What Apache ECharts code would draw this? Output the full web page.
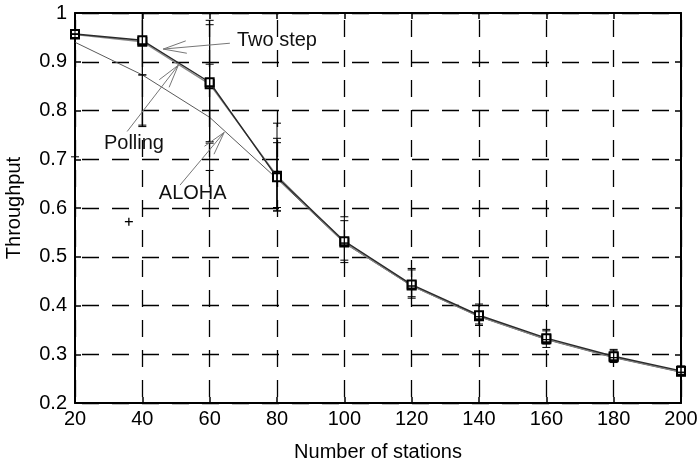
<!DOCTYPE html>
<html>
<head>
<meta charset="utf-8">
<script src="https://cdn.jsdelivr.net/npm/echarts@6/dist/echarts.min.js"></script>
<style>
  html, body { margin: 0; padding: 0; background: #fff; }
  #chart { width: 698px; height: 462px; }
</style>
</head>
<body>
<div id="chart"></div>
<script>
// Throughput versus number of stations for three access schemes
const stations = [20, 40, 60, 80, 100, 120, 140, 160, 180, 200];

const twoStep = [0.957, 0.944, 0.858, 0.663, 0.532, 0.443, 0.380, 0.333, 0.296, 0.266];
const polling = [0.956, 0.941, 0.854, 0.666, 0.529, 0.441, 0.378, 0.331, 0.294, 0.264];
const aloha   = [0.940, 0.873, 0.786, 0.660, 0.528, 0.440, 0.377, 0.330, 0.293, 0.263];

// error bar extents (lower / upper)
const twoStepLow  = [0.957, 0.767, 0.733, 0.601, 0.488, 0.415, 0.359, 0.314, 0.283, 0.256];
const twoStepHigh = [0.957, 1.120, 0.985, 0.743, 0.574, 0.476, 0.403, 0.351, 0.310, 0.276];
const pollingLow  = [0.956, 0.770, 0.736, 0.594, 0.493, 0.418, 0.362, 0.321, 0.286, 0.258];
const pollingHigh = [0.956, 1.115, 0.976, 0.734, 0.582, 0.473, 0.400, 0.348, 0.307, 0.274];
const alohaLow    = [0.705, 0.873, 0.677, 0.594, 0.528, 0.440, 0.377, 0.330, 0.293, 0.263];
const alohaHigh   = [1.175, 0.873, 0.895, 0.774, 0.528, 0.440, 0.377, 0.330, 0.293, 0.263];

// isolated sample
const strayStations = [36];
const strayValues = [0.572];

const xTicks = { min: 20, max: 200, step: 20 };
const yTicks = { min: 0.2, max: 1, step: 0.1 };

const seriesNames = ['Two step', 'Polling', 'ALOHA'];

// annotation text anchors and arrow ends, in data units
const noteAnchors = [[68.1, 0.943], [28.6, 0.733], [44.9, 0.630]];
const noteTails   = [[66.0, 0.938], [35.5, 0.757], [51.2, 0.647]];
const noteTips    = [[46.2, 0.926], [50.7, 0.893], [64.3, 0.755]];

const FONT = '"Liberation Sans", Arial, Helvetica, sans-serif';

const chart = echarts.init(document.getElementById('chart'), null, { renderer: 'canvas' });

function errorBars(low, high) {
  return stations.map((s, i) => [s, low[i], high[i]]);
}

function renderErrorBar(params, api) {
  const x = api.value(0);
  const pLo = api.coord([x, api.value(1)]);
  const pHi = api.coord([x, api.value(2)]);
  const cs = params.coordSys;
  const top = cs.y, bottom = cs.y + cs.height;
  const yHi = Math.max(pHi[1], top);
  const yLo = Math.min(pLo[1], bottom);
  const hw = 4;
  const style = { stroke: '#000', lineWidth: 1 };
  const children = [
    { type: 'line', shape: { x1: pLo[0], y1: yLo, x2: pLo[0], y2: yHi }, style }
  ];
  if (pHi[1] >= top) children.push({ type: 'line', shape: { x1: pHi[0] - hw, y1: pHi[1], x2: pHi[0] + hw, y2: pHi[1] }, style });
  if (pLo[1] <= bottom) children.push({ type: 'line', shape: { x1: pLo[0] - hw, y1: pLo[1], x2: pLo[0] + hw, y2: pLo[1] }, style });
  return { type: 'group', children };
}

function renderCross(params, api) {
  const p = api.coord([api.value(0), api.value(1)]);
  const a = 4;
  const style = { stroke: '#000', lineWidth: 1.3 };
  return {
    type: 'group',
    children: [
      { type: 'line', shape: { x1: p[0] - a, y1: p[1], x2: p[0] + a, y2: p[1] }, style },
      { type: 'line', shape: { x1: p[0], y1: p[1] - a, x2: p[0], y2: p[1] + a }, style }
    ]
  };
}

const gridDash = { type: [17, 13], dashOffset: 23 };

const option = {
  animation: false,
  backgroundColor: '#fff',
  grid: { left: 75, right: 17, top: 13, bottom: 59, containLabel: false, outerBoundsMode: 'none' },
  xAxis: [
    {
      type: 'value', position: 'bottom',
      min: xTicks.min, max: xTicks.max, interval: xTicks.step,
      name: 'Number of stations', nameLocation: 'middle', nameGap: 39,
      nameTextStyle: { fontFamily: FONT, fontSize: 20, color: '#000' },
      axisLine: { lineStyle: { color: '#000', width: 2 } },
      axisTick: { inside: true, length: 6, lineStyle: { color: '#000', width: 1.5 } },
      axisLabel: { fontFamily: FONT, fontSize: 20, color: '#000', margin: 6 },
      splitLine: { show: true, lineStyle: { color: '#000', width: 1.3, type: gridDash.type, dashOffset: gridDash.dashOffset } }
    },
    {
      type: 'value', position: 'top',
      min: xTicks.min, max: xTicks.max, interval: xTicks.step,
      axisLine: { lineStyle: { color: '#000', width: 2 } },
      axisTick: { inside: true, length: 6, lineStyle: { color: '#000', width: 1.5 } },
      axisLabel: { show: false },
      splitLine: { show: false }
    }
  ],
  yAxis: [
    {
      type: 'value', position: 'left',
      min: yTicks.min, max: yTicks.max, interval: yTicks.step,
      name: 'Throughput', nameLocation: 'middle', nameGap: 51,
      nameTextStyle: { fontFamily: FONT, fontSize: 20, color: '#000' },
      axisLine: { show: true, lineStyle: { color: '#000', width: 2 } },
      axisTick: { show: true, inside: true, length: 6, lineStyle: { color: '#000', width: 1.5 } },
      axisLabel: { fontFamily: FONT, fontSize: 20, color: '#000', margin: 8 },
      splitLine: { show: true, lineStyle: { color: '#000', width: 1.3, type: gridDash.type, dashOffset: gridDash.dashOffset } }
    },
    {
      type: 'value', position: 'right',
      min: yTicks.min, max: yTicks.max, interval: yTicks.step,
      axisLine: { show: true, lineStyle: { color: '#000', width: 2 } },
      axisTick: { show: true, inside: true, length: 6, lineStyle: { color: '#000', width: 1.5 } },
      axisLabel: { show: false },
      splitLine: { show: false }
    }
  ],
  series: [
    {
      name: seriesNames[2], type: 'line',
      data: stations.map((s, i) => [s, aloha[i]]),
      showSymbol: false, symbol: 'none',
      lineStyle: { color: '#5a5a5a', width: 1 }, z: 3
    },
    {
      name: seriesNames[1], type: 'line',
      data: stations.map((s, i) => [s, polling[i]]),
      symbol: 'emptyRect', symbolSize: 8,
      itemStyle: { color: '#000', borderColor: '#000', borderWidth: 1.5 },
      lineStyle: { color: '#8a8a8a', width: 1.4 }, z: 4
    },
    {
      name: seriesNames[0], type: 'line',
      data: stations.map((s, i) => [s, twoStep[i]]),
      symbol: 'emptyRect', symbolSize: 8,
      itemStyle: { color: '#000', borderColor: '#000', borderWidth: 1.5 },
      lineStyle: { color: '#2a2a2a', width: 1.4 }, z: 5
    },
    { type: 'custom', renderItem: renderErrorBar, data: errorBars(alohaLow, alohaHigh), z: 6, clip: false },
    { type: 'custom', renderItem: renderErrorBar, data: errorBars(pollingLow, pollingHigh), z: 6, clip: false },
    { type: 'custom', renderItem: renderErrorBar, data: errorBars(twoStepLow, twoStepHigh), z: 6, clip: false },
    { type: 'custom', renderItem: renderCross, data: strayStations.map((s, i) => [s, strayValues[i]]), z: 6 }
  ]
};

chart.setOption(option);

// annotations: label text plus an open arrow pointing at each curve
function annotationGraphics() {
  const out = [];
  const barbLen = 24, barbAngle = 15 * Math.PI / 180;
  const lineStyle = { stroke: '#777', lineWidth: 1 };
  seriesNames.forEach((name, i) => {
    const a = chart.convertToPixel({ gridIndex: 0 }, noteAnchors[i]);
    const t = chart.convertToPixel({ gridIndex: 0 }, noteTails[i]);
    const p = chart.convertToPixel({ gridIndex: 0 }, noteTips[i]);
    const ang = Math.atan2(t[1] - p[1], t[0] - p[0]);
    out.push({ type: 'line', z: 10, shape: { x1: t[0], y1: t[1], x2: p[0], y2: p[1] }, style: lineStyle });
    [-1, 1].forEach(sgn => {
      const b = ang + sgn * barbAngle;
      out.push({ type: 'line', z: 10, shape: { x1: p[0], y1: p[1], x2: p[0] + barbLen * Math.cos(b), y2: p[1] + barbLen * Math.sin(b) }, style: lineStyle });
    });
    out.push({
      type: 'text', z: 1, x: a[0], y: a[1],
      style: { text: name, fill: '#111', font: '20px ' + FONT, textAlign: 'left', textVerticalAlign: 'middle' }
    });
  });
  return out;
}

chart.setOption({ graphic: annotationGraphics() });
</script>
</body>
</html>
